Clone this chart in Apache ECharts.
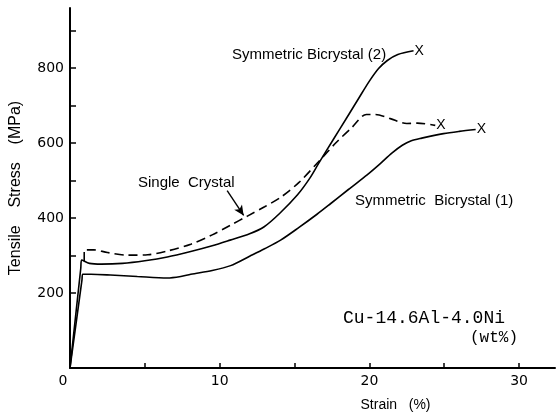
<!DOCTYPE html>
<html>
<head>
<meta charset="utf-8">
<script src="https://cdn.jsdelivr.net/npm/echarts@6/dist/echarts.min.js"></script>
<style>
  html, body { margin: 0; padding: 0; background: #fff; }
  #main { width: 557px; height: 417px; }
</style>
</head>
<body>
<div id="main"></div>
<script>
// strain (%) , stress (MPa)
const bicrystal2 = [
  [0, 0], [0.72, 266], [0.78, 288], [1.3, 279], [2.1, 277], [3.5, 279], [5, 286], [6.5, 296],
  [8, 310], [9.5, 326], [10.7, 341], [12, 358], [12.95, 376], [14, 412],
  [15.2, 462], [16, 505], [16.6, 545], [17.6, 610], [18.5, 668], [19.3, 720],
  [20, 765], [20.6, 798], [21.2, 820], [21.9, 836], [22.95, 846]
];
const singleCrystal = [
  [0.95, 285], [0.95, 315], [1.6, 315], [2.5, 308], [3.85, 301], [5.2, 302],
  [6.5, 312], [8.07, 330], [9.5, 355], [10.73, 381], [11.85, 405], [13, 430],
  [14.07, 455], [15.3, 495], [16.6, 550], [17.8, 602], [18.8, 640],
  [19.8, 676], [20.4, 676], [21.4, 665], [22.5, 652], [23.2, 653], [24.4, 647]
];
const bicrystal1 = [
  [0, 0], [0.8, 235], [0.85, 250], [1.4, 250], [2.7, 248], [4.5, 244], [6.5, 240], [7.4, 244],
  [8.07, 250], [9.5, 260], [10.73, 273], [12, 298], [13, 318], [14.07, 341],
  [15.3, 375], [16.5, 410], [17.4, 438], [18.6, 476], [19.85, 515],
  [20.73, 545], [21.5, 573], [22.2, 594], [22.8, 606], [23.5, 613],
  [24.95, 625], [26, 631], [27.1, 636]
];
const arrowFrom = [10.5, 473];
const arrowTo = [11.6, 407];

const xTickLabels = [0, 10, 20, 30];
const xTicks = [5, 10, 15, 20, 25, 30];
const yTickLabels = [200, 400, 600, 800];
const yTicks = [200, 300, 400, 500, 600, 700, 800, 900];

const sans = 'Liberation Sans';
const num = 'DejaVu Sans';

const chart = echarts.init(document.getElementById('main'));

function curve(name, data, dashed) {
  return {
    name: name,
    type: 'line',
    data: data,
    symbol: 'none',
    smooth: 0.3,
    lineStyle: { color: '#000', width: 1.6, type: dashed ? [9, 5] : 'solid' },
    endLabel: {
      show: true, formatter: 'X', distance: 1,
      color: '#000', fontFamily: sans, fontSize: 14
    },
    z: 3
  };
}

const sc = curve('Single Crystal', singleCrystal, true);
sc.markLine = {
  silent: true,
  symbol: ['none', 'arrow'],
  symbolSize: [7, 10],
  label: { show: false },
  lineStyle: { color: '#000', width: 1.4, type: 'solid' },
  data: [[{ coord: arrowFrom }, { coord: arrowTo }]]
};

chart.setOption({
  animation: false,
  backgroundColor: '#fff',
  grid: { left: 69, right: 2, top: 8, bottom: 44 },
  xAxis: {
    type: 'value',
    min: 0,
    max: 32.4,
    name: 'Strain   (%)',
    nameLocation: 'middle',
    nameGap: 30,
    nameTextStyle: { color: '#000', fontFamily: sans, fontSize: 14, padding: [0, 0, 0, 166] },
    axisLine: { show: true, lineStyle: { color: '#000', width: 2 } },
    axisTick: { show: true, inside: true, length: 5, customValues: xTicks, lineStyle: { color: '#000', width: 1.5 } },
    axisLabel: {
      customValues: xTickLabels,
      margin: 6,
      color: '#000', fontFamily: num, fontSize: 14,
      formatter: v => v === 0 ? '{o|0}' : String(v),
      rich: { o: { padding: [0, 14, 0, 0], color: '#000', fontFamily: num, fontSize: 14 } }
    },
    splitLine: { show: false }
  },
  yAxis: {
    type: 'value',
    min: 0,
    max: 960,
    name: 'Tensile    Stress    (MPa)',
    nameLocation: 'middle',
    nameGap: 46,
    nameTextStyle: { color: '#000', fontFamily: sans, fontSize: 16 },
    axisLine: { show: true, lineStyle: { color: '#000', width: 2 } },
    axisTick: { show: true, inside: true, length: 6, customValues: yTicks, lineStyle: { color: '#000', width: 1.5 } },
    axisLabel: { customValues: yTickLabels, margin: 6, color: '#000', fontFamily: num, fontSize: 14 },
    splitLine: { show: false }
  },
  series: [
    curve('Symmetric Bicrystal (2)', bicrystal2, false),
    sc,
    curve('Symmetric Bicrystal (1)', bicrystal1, false)
  ],
  graphic: [
    { type: 'text', style: { x: 232, y: 55, text: 'Symmetric Bicrystal (2)', fill: '#000', font: '15px "Liberation Sans"', textVerticalAlign: 'middle' } },
    { type: 'text', style: { x: 138, y: 183, text: 'Single  Crystal', fill: '#000', font: '15px "Liberation Sans"', textVerticalAlign: 'middle' } },
    { type: 'text', style: { x: 355, y: 201, text: 'Symmetric  Bicrystal (1)', fill: '#000', font: '15px "Liberation Sans"', textVerticalAlign: 'middle' } },
    { type: 'text', style: { x: 343, y: 318, text: 'Cu-14.6Al-4.0Ni', fill: '#000', font: '18px "Liberation Mono"', textVerticalAlign: 'middle' } },
    { type: 'text', style: { x: 518, y: 338, text: '(wt%)', fill: '#000', font: '16px "Liberation Mono"', textAlign: 'right', textVerticalAlign: 'middle' } }
  ]
});
</script>
</body>
</html>
